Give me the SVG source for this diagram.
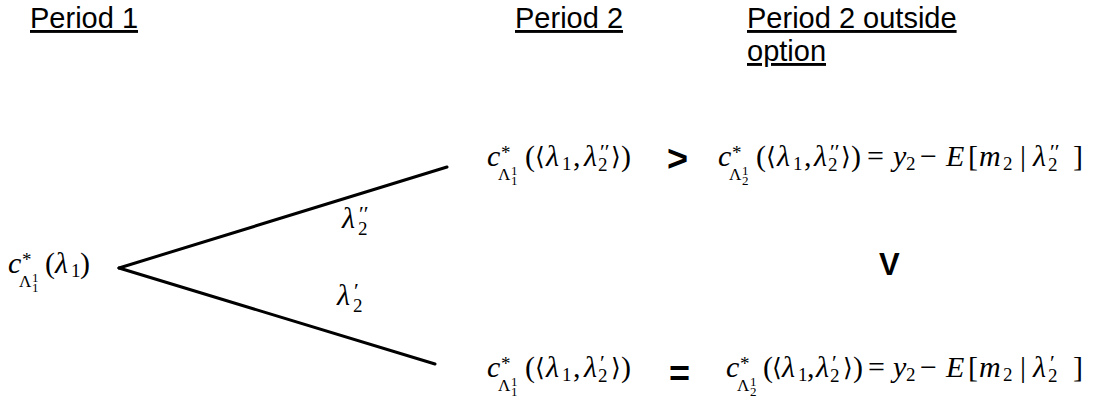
<svg xmlns="http://www.w3.org/2000/svg" width="1098" height="398" viewBox="0 0 1098 398">
<style>
.h{font-family:"Liberation Sans",Arial,sans-serif;font-size:29px;fill:#000;text-decoration:underline;}
.m{font-family:"Liberation Serif","DejaVu Serif",serif;fill:#000;}
.i{font-style:italic;font-size:30px;}
.r{font-size:30px;}
.sup{font-size:19px;}
.pr{font-size:22px;}
.sub{font-size:19px;}
.t{font-size:13px;}
.L{font-size:17px;}
.ang{font-family:"DejaVu Sans",sans-serif;font-size:25px;}
.rel{font-family:"Liberation Sans",Arial,sans-serif;font-weight:bold;fill:#000;}
.edge{stroke:#000;stroke-width:3;fill:none;stroke-linecap:round;}
</style>
<g id="headers">
<text class="h" x="30" y="28">Period 1</text>
<text class="h" x="515" y="28">Period 2</text>
<text class="h" x="747" y="28">Period 2 outside</text>
<text class="h" x="747" y="61">option</text>
</g>
<g id="connectors">
<line class="edge" x1="119" y1="268" x2="447" y2="167"/>
<line class="edge" x1="119" y1="268" x2="435" y2="364"/>
<text class="m"><tspan class="i" x="342" y="228">λ</tspan><tspan class="pr" x="359" y="221">′′</tspan><tspan class="sub" x="358" y="235">2</tspan></text>
<text class="m"><tspan class="i" x="337" y="305">λ</tspan><tspan class="pr" x="354" y="298">′</tspan><tspan class="sub" x="353" y="312">2</tspan></text>
</g>
<g id="node-period1">
<text class="m"><tspan class="i" x="8" y="273">c</tspan><tspan class="sup" x="22" y="266">*</tspan><tspan class="L" x="19" y="287">Λ</tspan><tspan class="t" x="32" y="282">1</tspan><tspan class="t" x="32" y="292">1</tspan><tspan class="r" x="45" y="273">(</tspan><tspan class="i" x="55" y="273">λ</tspan><tspan class="sub" x="71" y="277">1</tspan><tspan class="r" x="80" y="273">)</tspan></text>
</g>
<g id="node-upper">
<text class="m"><tspan class="i" x="487" y="166">c</tspan><tspan class="sup" x="501" y="159">*</tspan><tspan class="L" x="498" y="180">Λ</tspan><tspan class="t" x="511" y="175">1</tspan><tspan class="t" x="511" y="185">1</tspan><tspan class="r" x="525" y="166">(</tspan><tspan class="ang" x="535" y="165">⟨</tspan><tspan class="i" x="546" y="166">λ</tspan><tspan class="sub" x="562" y="170">1</tspan><tspan class="r" x="573" y="166">,</tspan><tspan class="i" x="584" y="166">λ</tspan><tspan class="pr" x="600" y="159">′′</tspan><tspan class="sub" x="598" y="171">2</tspan><tspan class="ang" x="611" y="165">⟩</tspan><tspan class="r" x="621" y="166">)</tspan></text>
</g>
<g id="rel-gt">
<text class="rel" x="667" y="171" font-size="36">&gt;</text>
</g>
<g id="node-upper-outside">
<text class="m"><tspan class="i" x="718" y="166">c</tspan><tspan class="sup" x="732" y="159">*</tspan><tspan class="L" x="729" y="180">Λ</tspan><tspan class="t" x="742" y="175">1</tspan><tspan class="t" x="742" y="185">2</tspan><tspan class="r" x="756" y="166">(</tspan><tspan class="ang" x="766" y="165">⟨</tspan><tspan class="i" x="777" y="166">λ</tspan><tspan class="sub" x="793" y="170">1</tspan><tspan class="r" x="804" y="166">,</tspan><tspan class="i" x="814" y="166">λ</tspan><tspan class="pr" x="830" y="159">′′</tspan><tspan class="sub" x="828" y="171">2</tspan><tspan class="ang" x="841" y="165">⟩</tspan><tspan class="r" x="851" y="166">)</tspan><tspan class="r" x="867" y="166">=</tspan><tspan class="i" x="893" y="166">y</tspan><tspan class="sub" x="906" y="170">2</tspan><tspan class="r" x="920" y="166">−</tspan><tspan class="i" x="946" y="166">E</tspan><tspan class="r" x="968" y="166">[</tspan><tspan class="i" x="979" y="166">m</tspan><tspan class="sub" x="1003" y="170">2</tspan><tspan class="r" x="1020" y="166">|</tspan><tspan class="i" x="1033" y="166">λ</tspan><tspan class="pr" x="1050" y="159">′′</tspan><tspan class="sub" x="1048" y="171">2</tspan><tspan class="r" x="1073" y="166">]</tspan></text>
</g>
<g id="rel-vee">
<text class="rel" x="879" y="275" font-size="31">V</text>
</g>
<g id="node-lower">
<text class="m"><tspan class="i" x="487" y="377">c</tspan><tspan class="sup" x="501" y="370">*</tspan><tspan class="L" x="498" y="391">Λ</tspan><tspan class="t" x="511" y="386">1</tspan><tspan class="t" x="511" y="396">1</tspan><tspan class="r" x="525" y="377">(</tspan><tspan class="ang" x="535" y="376">⟨</tspan><tspan class="i" x="546" y="377">λ</tspan><tspan class="sub" x="562" y="381">1</tspan><tspan class="r" x="573" y="377">,</tspan><tspan class="i" x="584" y="377">λ</tspan><tspan class="pr" x="600" y="370">′</tspan><tspan class="sub" x="598" y="382">2</tspan><tspan class="ang" x="611" y="376">⟩</tspan><tspan class="r" x="621" y="377">)</tspan></text>
</g>
<g id="rel-eq">
<text class="rel" x="669" y="386" font-size="36">=</text>
</g>
<g id="node-lower-outside">
<text class="m"><tspan class="i" x="726" y="377">c</tspan><tspan class="sup" x="740" y="370">*</tspan><tspan class="L" x="737" y="391">Λ</tspan><tspan class="t" x="750" y="386">1</tspan><tspan class="t" x="750" y="396">2</tspan><tspan class="r" x="763" y="377">(</tspan><tspan class="ang" x="772" y="376">⟨</tspan><tspan class="i" x="782" y="377">λ</tspan><tspan class="sub" x="798" y="381">1</tspan><tspan class="r" x="807" y="377">,</tspan><tspan class="i" x="816" y="377">λ</tspan><tspan class="pr" x="832" y="370">′</tspan><tspan class="sub" x="830" y="382">2</tspan><tspan class="ang" x="843" y="376">⟩</tspan><tspan class="r" x="853" y="377">)</tspan><tspan class="r" x="868" y="377">=</tspan><tspan class="i" x="893" y="377">y</tspan><tspan class="sub" x="906" y="381">2</tspan><tspan class="r" x="920" y="377">−</tspan><tspan class="i" x="946" y="377">E</tspan><tspan class="r" x="968" y="377">[</tspan><tspan class="i" x="979" y="377">m</tspan><tspan class="sub" x="1003" y="381">2</tspan><tspan class="r" x="1020" y="377">|</tspan><tspan class="i" x="1033" y="377">λ</tspan><tspan class="pr" x="1050" y="370">′</tspan><tspan class="sub" x="1048" y="382">2</tspan><tspan class="r" x="1073" y="377">]</tspan></text>
</g>
</svg>
